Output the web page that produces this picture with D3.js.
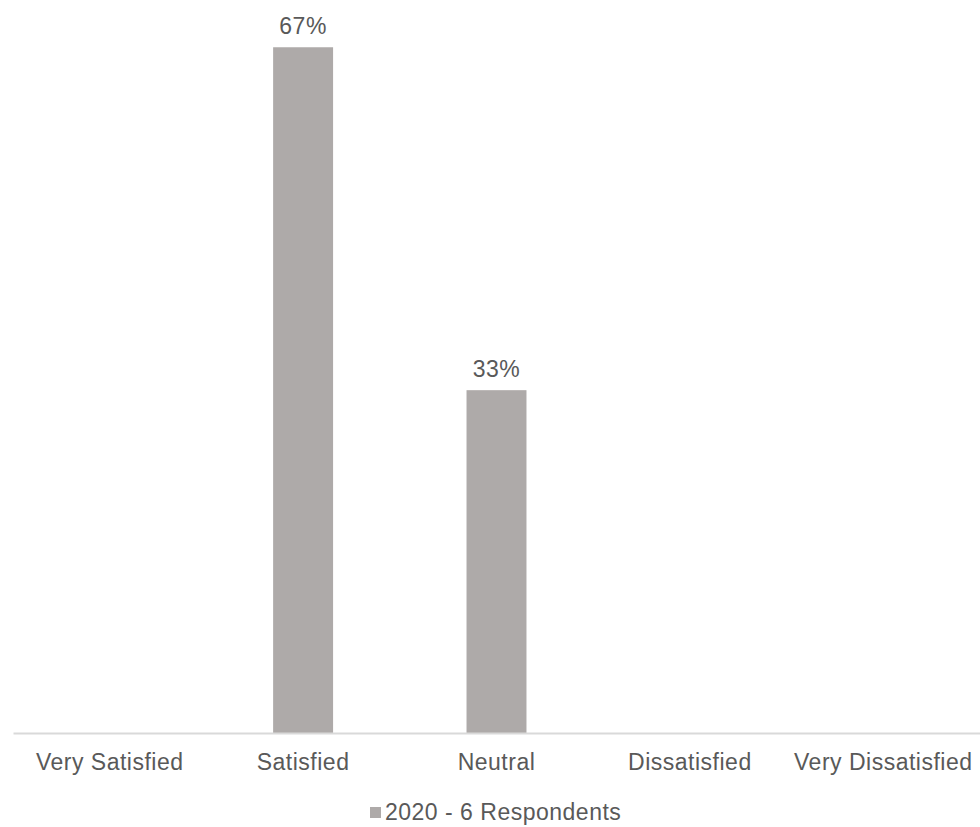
<!DOCTYPE html>
<html>
<head>
<meta charset="utf-8">
<script src="https://cdn.jsdelivr.net/npm/d3@7"></script>
<style>
  html, body { margin: 0; padding: 0; background: #fff; }
  svg { display: block; }
  text { font-family: "Liberation Sans", Arial, Helvetica, sans-serif; fill: #595959; letter-spacing: 0.5px; }
</style>
</head>
<body>
<svg id="chart" width="980" height="827"></svg>
<script>
const categories = ["Very Satisfied", "Satisfied", "Neutral", "Dissatisfied", "Very Dissatisfied"];
const values = [0, 0.6667, 0.3333, 0, 0];
const valueLabels = ["", "67%", "33%", "", ""];
const seriesName = "2020 - 6 Respondents";

const W = 980, H = 827;
const margin = { left: 13, right: 0, top: 13, bottom: 94 };
const baseY = 733;
const FS = 23;

const svg = d3.select("#chart");

const x = d3.scaleBand()
  .domain(categories)
  .range([margin.left, W - margin.right])
  .paddingInner(0.69)
  .paddingOuter(0.345);

const y = d3.scaleLinear()
  .domain([0, 0.7])
  .range([baseY, margin.top]);

// bars
svg.append("g").selectAll("rect")
  .data(categories)
  .join("rect")
  .attr("x", (d) => x(d))
  .attr("width", x.bandwidth())
  .attr("y", (d, i) => y(values[i]))
  .attr("height", (d, i) => y(0) - y(values[i]))
  .attr("fill", "#aeaaa9");

// data labels
svg.append("g").selectAll("text")
  .data(categories)
  .join("text")
  .attr("x", (d) => x(d) + x.bandwidth() / 2)
  .attr("y", (d, i) => y(values[i]) - 13)
  .attr("text-anchor", "middle")
  .attr("font-size", FS)
  .text((d, i) => valueLabels[i]);

// x axis
const xAxis = d3.axisBottom(x).tickSize(0).tickPadding(0);
const gx = svg.append("g").attr("transform", `translate(0,${baseY})`).call(xAxis);
gx.select(".domain").attr("stroke", "#d9d9d9").attr("stroke-width", 2);
gx.selectAll(".tick text")
  .attr("font-size", FS)
  .attr("fill", "#595959")
  .attr("font-family", '"Liberation Sans", Arial, sans-serif')
  .attr("dy", null)
  .attr("y", 37);

// legend
const legend = svg.append("g");
legend.append("text")
  .attr("x", 385)
  .attr("y", 820)
  .attr("font-size", FS)
  .text(seriesName);
legend.append("rect")
  .attr("x", 370)
  .attr("y", 807)
  .attr("width", 11)
  .attr("height", 11)
  .attr("fill", "#aeaaa9");
</script>
</body>
</html>
